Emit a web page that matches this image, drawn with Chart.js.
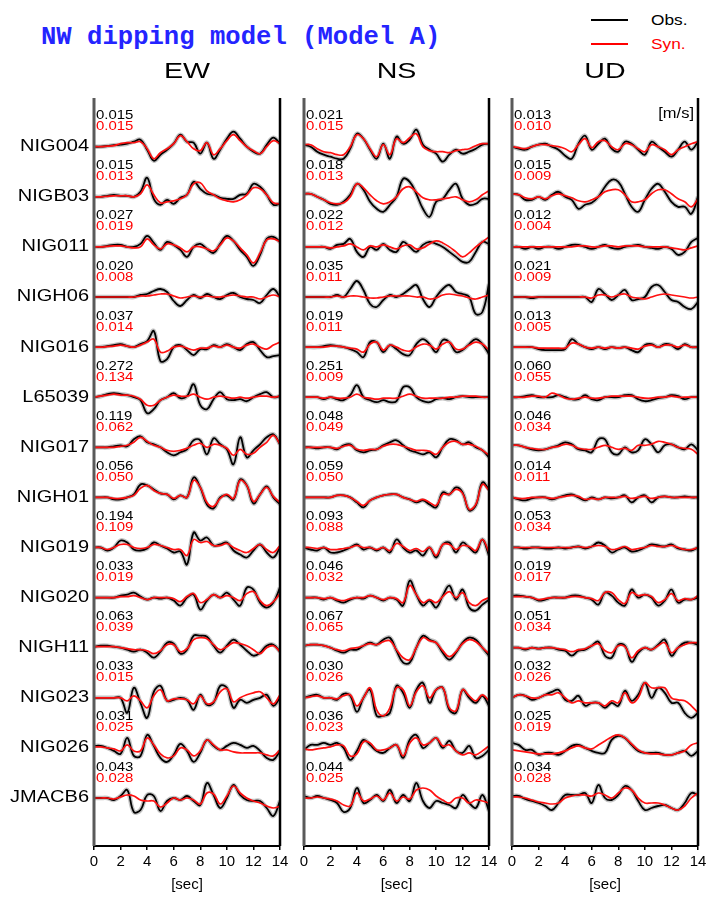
<!DOCTYPE html>
<html>
<head>
<meta charset="utf-8">
<script src="https://cdn.jsdelivr.net/npm/chart.js@4.4.1/dist/chart.umd.min.js"></script>
<style>
  body { margin: 0; background: #fff; width: 711px; height: 899px; position: relative; overflow: hidden; }
  canvas { position: absolute; top: 0; }
  #head { position: absolute; left: 41px; top: 22px; font: bold 25.6px "Liberation Mono", monospace; line-height: 32px; color: #2424ff; white-space: pre; }
  .legLine { position: absolute; left: 591px; width: 37px; height: 0; border-top: 2px solid #000; }
  .legText { position: absolute; left: 651px; font: 15px "Liberation Sans", Arial, sans-serif; line-height: 16px; transform: scaleX(1.15); transform-origin: left center; }
</style>
</head>
<body>
<div id="head">NW dipping model (Model A)</div>
<div class="legLine" style="top:19px"></div>
<div class="legText" style="top:12px;color:#000">Obs.</div>
<div class="legLine" style="top:43px;border-color:#ff0000"></div>
<div class="legText" style="top:36px;color:#ff0000">Syn.</div>

<canvas id="ew" width="300" height="899" style="left:0px"></canvas>
<canvas id="ns" width="214" height="899" style="left:290px"></canvas>
<canvas id="ud" width="213" height="899" style="left:498px"></canvas>

<script>
// time samples [sec]
const times = [0, 0.5, 1, 1.5, 2, 2.5, 3, 3.5, 4, 4.5, 5, 5.5, 6, 6.5, 7,
  7.5, 8, 8.5, 9, 9.5, 10, 10.5, 11, 11.5, 12, 12.5, 13, 13.5, 14];
const timeTicks = [0, 2, 4, 6, 8, 10, 12, 14];

const stations = ['NIG004', 'NIGB03', 'NIG011', 'NIGH06', 'NIG016', 'L65039', 'NIG017',
  'NIGH01', 'NIG019', 'NIG020', 'NIGH11', 'NIG023', 'NIG026', 'JMACB6'];

// peak amplitudes printed above each trace [m/s]
const ewObsMax = ['0.015', '0.015', '0.027', '0.020', '0.037', '0.272', '0.119', '0.056', '0.194', '0.033', '0.063', '0.033', '0.031', '0.043'];
const ewSynMax = ['0.015', '0.013', '0.019', '0.008', '0.014', '0.134', '0.062', '0.050', '0.109', '0.019', '0.039', '0.015', '0.025', '0.028'];
const nsObsMax = ['0.021', '0.018', '0.022', '0.035', '0.019', '0.251', '0.048', '0.059', '0.093', '0.046', '0.067', '0.030', '0.036', '0.044'];
const nsSynMax = ['0.015', '0.013', '0.012', '0.011', '0.011', '0.009', '0.049', '0.050', '0.088', '0.032', '0.065', '0.026', '0.023', '0.025'];
const udObsMax = ['0.013', '0.015', '0.012', '0.021', '0.013', '0.060', '0.046', '0.014', '0.053', '0.019', '0.051', '0.032', '0.025', '0.034'];
const udSynMax = ['0.010', '0.009', '0.004', '0.009', '0.005', '0.055', '0.034', '0.011', '0.034', '0.017', '0.034', '0.026', '0.019', '0.028'];

// normalised waveforms, one row per station
const ewObs = [
  [0,0,0.7,1.5,2,3,5,7,-3,-14,-8,-3,3,12,5,4,-7,4,-12,-3,8,15,8,0,-5,-7,2,9,3],
  [0,0,1,2,1,1,0,5,19,-2,-8,-3,-7,-1,2,15,8,3,2,-1,-2,-2,2,3,13,10,2,-8,-7],
  [0,0,1,2,2,0,0,3,11,4,-3,5,2,-3,-10,0,3,-2,-6,3,11,6,-3,-10,-19,-8,8,10,5],
  [0,0,0,0,0,0,0,2,3,6,8,5,-4,-9,-3,2,-1,3,0,-2,2,4,0,-2,-3,-6,2,8,0],
  [0,0,1,2,3,1,0,3,6,16,-14,-12,0,2,-3,-8,-2,-2,2,0,3,0,-3,3,5,-3,-10,-9,-8],
  [0,1,3,4,3,2,0,-3,-16,-12,-3,0,4,-1,1,13,-8,-12,-2,5,-2,-3,-2,-4,0,3,5,0,1],
  [0,0,0,1,2,1,8,11,5,3,0,-5,-8,-5,-2,7,7,-7,9,3,-2,-17,10,-10,-3,3,10,13,3],
  [0,0,0,-2,-2,0,3,13,12,8,4,3,-2,2,0,20,10,-7,-11,0,2,-2,18,12,-6,3,11,0,-7],
  [0,0,-3,0,7,5,-2,-3,-1,5,2,-1,-5,-4,-17,15,7,10,2,3,5,-3,-7,-10,-3,3,-5,-10,0],
  [0,0,0,0,2,3,5,1,-2,0,-1,0,-3,-8,0,3,-12,-3,3,0,5,-2,-8,10,8,-5,-10,-5,10],
  [1,2,2,1,0,-2,-4,-2,-5,-10,-4,5,4,-6,-2,12,12,11,2,-5,2,8,3,-3,-8,-5,2,3,-4],
  [0,0,0,0,0,-15,10,-5,-20,6,12,-3,-2,0,-2,-12,3,-7,-5,12,10,-10,-2,-5,-2,0,3,-8,0],
  [2,2,0,-3,-6,10,-8,-8,13,2,-10,-14,-7,4,-3,-14,-5,8,2,-2,2,5,3,0,2,-3,-10,-12,-3],
  [0,0,0,-2,2,8,-14,-12,3,2,-13,-3,0,-2,2,-3,-7,15,3,-10,0,13,3,-2,-3,-3,-10,-18,-3]
];
const ewSyn = [
  [0,0,0.5,1,3,4,4,5,-2,-12,-6,-2,3,11,5,-2,-4,4,-8,-2,6,12,6,0,-4,-7,0,6,3],
  [0,0,0.5,1,1,1,0,3,12,2,-6,-5,-4,-2,2,13,14,6,2,-2,-4,-5,-3,2,9,8,2,-6,-7],
  [0,0,0.5,1,1,0,-1,0,8,2,-2,3,2,-1,-5,0,0,-2,-4,2,9,6,-1,-8,-16,-6,7,8,5],
  [0,0,0,0,0,0,0,1,1,2,3,3,1,-1,0,1,0,1,0,0,1,2,1,0,0,-2,0,2,0],
  [0,0,0.5,1,2,1,0,2,5,8,-5,-4,0,1,-1,-3,-1,-1,1,0,2,0,-1,2,3,0,-2,2,5],
  [0,1,2,3,2,2,1,-2,-8,-8,-3,0,2,1,1,3,0,-2,0,1,0,-1,0,-1,0,1,1,0,1],
  [0,0,0,0,1,2,5,10,6,2,0,-3,-4,-3,-1,2,4,0,3,2,-1,-8,-2,-7,-6,0,5,12,3],
  [0,0,0,-1,-1,0,2,9,12,7,4,3,-1,2,0,17,10,-5,-9,-1,3,-1,17,12,-4,3,10,1,-5],
  [0,0,-2,0,3,3,0,-1,0,3,2,0,-2,-2,-8,8,5,6,2,2,4,0,-3,-5,-1,3,-2,-5,2],
  [0,0,0,0,1,1,2,0,-2,0,0,0,-1,-4,1,4,-5,-2,3,0,2,0,-3,4,6,-3,-8,-4,4],
  [1,1,1,1,0,-1,-2,-2,-3,-6,-3,3,3,-4,-1,8,10,9,3,-2,1,5,4,2,-2,-6,0,2,-4],
  [0,0,0,0,0,-3,2,-3,-10,2,8,-3,-1,-1,-2,-6,2,-6,-4,6,9,-4,0,3,5,6,0,-6,3],
  [1,1,0,-1,-3,3,-3,-3,10,3,-6,-10,-8,0,-2,-8,-3,8,3,-2,-2,-4,-5,-5,-5,-5,-7,-8,-2],
  [0,0,0,-1,1,3,2,-2,-3,-3,-9,-5,0,-2,0,-2,-6,5,4,-6,2,12,5,0,-3,-5,-8,-10,-8]
];
const nsObs = [
  [2,0,-5,-8,-10,-12,-12,-2,13,8,-3,-12,3,-12,10,3,7,17,2,-3,-7,-15,-8,-3,-7,-5,-2,2,3],
  [3,3,0,-3,-7,-8,-5,2,13,7,-5,-12,-15,-8,0,18,15,3,-12,-20,-5,-2,7,13,-2,-8,-7,-2,-2],
  [0,0,0,0,-2,2,3,8,-5,-10,0,-3,3,-3,-5,5,0,-5,2,5,3,0,-5,-10,-15,-15,-5,5,3],
  [0,0,0,0,0,2,0,8,16,7,-7,-10,-3,2,0,3,8,12,-2,-10,0,8,12,5,3,0,-17,-15,13],
  [0,0,0,1,2,1,0,-2,-5,-10,5,5,-5,2,-2,-7,-8,3,8,3,-5,7,5,-5,-3,3,8,3,-7],
  [0,0,0,-2,0,-2,-3,2,12,0,-3,-5,-3,-5,-4,10,10,0,-4,-5,-2,-1,-2,0,1,0,0,0,0],
  [0,0,-1,0,0,-2,2,3,-3,-5,-3,-2,2,5,7,2,-3,-5,-7,-5,-10,0,8,7,3,5,0,-3,-10],
  [0,0,0,0,0,2,2,0,-5,-10,-3,0,2,3,3,0,-2,-5,-3,-7,-10,5,3,10,5,-13,-8,15,8],
  [0,-2,-3,0,-5,-5,-3,0,3,-2,0,-3,0,-5,8,0,-5,-3,-8,0,-10,3,5,-5,5,0,-5,8,-8],
  [0,0,0,-2,0,-3,-5,-2,0,-1,2,0,-3,0,-2,-8,17,3,-8,-3,-10,2,12,-2,8,-10,-13,-7,-2],
  [2,3,3,2,0,-3,-5,-2,-2,2,5,3,8,10,-3,-15,-15,0,12,8,5,-5,-12,-5,5,10,8,0,-8],
  [0,2,3,0,0,-2,4,2,-14,0,8,-18,-18,-15,12,5,-10,8,15,-5,8,10,-12,-15,8,0,-5,2,-8],
  [-2,3,3,5,3,5,0,-12,-3,8,3,-3,-5,0,3,-10,8,13,0,5,10,0,7,-3,-5,2,-10,-8,-2],
  [2,0,2,0,-2,-5,-14,-10,10,-5,-2,3,-3,8,-5,3,-3,15,-3,-10,-3,-5,-7,-10,3,-5,-10,3,-13]
];
const nsSyn = [
  [2,2,-2,-5,-6,-8,-8,0,12,8,-2,-10,2,-8,8,4,9,13,0,-4,-5,-5,-6,-4,-3,-2,1,3,3],
  [3,3,0,-3,-6,-7,-6,0,13,9,2,-4,-7,-5,0,8,10,5,-1,-3,-3,-2,-1,0,-3,-5,-3,2,6],
  [0,0,0,0,-1,0,1,3,0,-3,1,0,2,0,-2,1,2,-2,-1,3,6,4,0,-5,-10,-6,0,5,10],
  [0,0,0,0,0,1,0,1,1,0,-1,-1,0,1,1,1,1,0,0,-2,-1,2,3,2,1,-1,-2,0,2],
  [0,0,0,0,1,1,0,-1,-2,-5,3,5,-3,2,0,-3,-4,0,3,2,-2,3,5,-2,-2,2,5,3,-3],
  [0,0,0,-1,0,-1,-1,0,3,0,-1,-2,-1,-1,-1,1,3,1,-1,-1,-1,-1,0,0,1,1,1,0,0],
  [0,0,0,0,0,-1,1,2,-2,-3,-2,-2,1,3,3,1,-1,-3,-3,-4,-7,0,5,6,3,3,1,-3,-8],
  [0,0,0,0,0,2,2,0,-4,-8,-3,0,2,3,3,0,-2,-4,-2,-5,-8,3,3,8,4,-12,-7,13,7],
  [0,0,-1,0,-2,-2,-1,0,2,0,0,-2,0,-3,4,1,-3,-1,-4,0,-8,3,3,-2,2,1,-3,8,-5],
  [0,0,0,-1,0,-2,-3,-1,0,0,2,0,-2,0,-1,-5,12,3,-5,-2,-5,1,6,0,5,-5,-8,-3,0],
  [2,3,3,2,0,-2,-3,-1,0,2,4,3,6,7,-2,-10,-12,0,10,7,5,-3,-9,-4,4,8,6,0,-6],
  [0,1,2,0,0,-1,2,3,-8,0,10,-12,-18,-10,10,8,-8,6,12,0,8,10,-10,-13,8,2,-3,3,-3],
  [-1,-2,-1,0,1,3,2,-8,-6,6,5,-2,-2,0,3,-8,5,10,3,5,10,2,3,-3,-7,-5,-7,-3,2],
  [0,0,1,0,-1,-3,-7,-8,5,-3,-1,2,-2,5,-3,1,-1,8,10,8,2,-2,-5,0,0,-5,-2,-3,-5]
];
const udObs = [
  [0,-2,-3,0,2,3,0,-3,-9,-12,3,11,-3,3,8,-2,-5,5,3,-3,-8,5,0,-5,-10,-3,5,-3,5],
  [3,2,-3,-3,0,-3,2,5,0,-3,-12,-8,-6,0,10,17,15,3,-10,-15,-3,8,13,5,-5,-10,-10,-17,0],
  [0,0,-2,0,-2,0,0,-2,0,2,2,0,-2,0,2,-1,-2,0,1,2,0,-1,-2,0,-2,-8,-5,5,9],
  [0,0,0,-1,0,0,0,0,0,0,0,0,-5,8,3,-3,2,7,-3,-2,0,10,12,5,-3,-5,-10,-12,-5],
  [0,0,0,0,-2,-3,-3,-3,-2,8,3,0,-2,0,-2,0,-1,0,-3,-5,2,3,0,3,2,-2,3,0,0],
  [0,0,1,2,0,0,0,2,0,-2,-2,2,-2,-3,0,0,0,2,2,-2,-4,-3,-1,0,2,1,-2,0,0],
  [2,2,0,-2,-3,-2,0,2,5,3,-2,-3,-5,8,8,-5,-7,0,-5,-3,8,3,-5,2,3,0,-2,3,-3],
  [0,-2,-3,-1,0,0,-2,0,2,3,0,-3,0,-2,0,-1,0,2,-5,0,2,-5,0,1,0,0,1,0,0],
  [0,0,-1,0,0,-1,-1,0,-1,0,1,-1,1,5,2,-5,-2,0,-4,-3,0,3,2,1,3,-1,-2,-3,0],
  [2,2,1,0,-3,-2,0,0,0,2,2,0,-2,-7,5,2,-5,-8,8,0,3,0,-8,-3,8,-5,-2,-2,0],
  [0,0,-2,0,-1,0,0,-2,-3,-8,-3,-2,2,6,-8,-10,3,2,-14,-5,0,-2,3,8,-8,0,5,5,3],
  [0,3,2,-2,0,3,6,8,-2,-3,2,-8,-5,-5,-10,-5,-8,7,-3,3,15,0,10,5,-5,-5,-15,-20,-15],
  [5,3,-2,-2,-7,-5,-5,-7,-3,2,3,0,-3,-5,-5,8,12,10,3,-3,-5,-5,-5,-7,-7,-5,-3,-8,-3],
  [2,2,-1,-3,-5,-8,-12,-5,3,3,3,5,-5,13,0,-2,3,12,8,-3,-12,-10,-8,-7,-10,-12,-5,5,3]
];
const udSyn = [
  [0,-1,-2,0,2,2,1,0,-2,-5,2,8,-1,5,6,0,-3,3,2,-2,-5,2,0,-3,-8,-3,0,3,5],
  [3,2,-1,-2,0,-2,1,3,1,-1,-4,-5,-3,0,5,7,7,2,-5,-5,-3,3,7,7,3,-2,-5,-10,-2],
  [0,0,0,0,0,0,0,0,0,0,1,1,0,0,1,1,0,1,1,1,0,0,0,0,-1,-2,-3,-1,1],
  [0,0,0,0,0,0,0,0,0,0,0,0,-1,2,2,0,2,3,0,-1,-2,0,2,3,2,1,0,-1,0],
  [0,0,0,0,-1,-1,-1,-1,-1,4,3,0,-1,0,-1,0,-1,0,-1,-2,1,2,0,2,2,0,2,0,0],
  [0,0,0,1,1,0,4,2,-1,-2,-1,0,-1,-1,0,1,1,1,1,0,-1,-1,0,0,1,0,0,0,0],
  [2,2,0,-1,-2,-2,0,1,3,2,-1,-2,-2,0,2,0,-2,-1,-3,2,2,3,6,5,3,0,-1,-2,-7],
  [0,-1,-1,0,0,0,-1,0,1,2,1,-2,-1,-2,0,0,0,1,-1,0,1,-1,0,1,0,0,0,0,0],
  [0,0,0,0,0,0,0,0,0,0,1,0,1,2,1,-2,-1,1,-2,-1,0,2,1,1,2,0,-2,-2,0],
  [1,1,1,0,-2,-1,0,0,0,1,1,0,-1,-3,5,5,-2,-6,5,2,3,1,-5,-2,4,-3,-1,-2,2],
  [0,0,-1,0,-1,0,0,-1,-2,-4,-2,-1,2,4,-3,-5,2,1,-10,-3,0,-2,2,5,-5,0,3,5,5],
  [0,3,2,0,0,3,3,5,0,-5,-3,-5,-5,-5,-8,-3,-5,5,-5,0,15,10,10,10,0,-2,-3,-8,-15],
  [-2,-3,-4,-5,-6,-6,-6,-5,-3,0,2,0,-1,3,7,11,13,10,4,-2,-5,-6,-6,-7,-7,-5,-3,3,5],
  [1,1,0,-2,-4,-5,-6,-5,0,2,3,3,2,5,3,0,5,10,8,0,-5,-5,-5,-7,-10,-12,-8,0,5]
];

// vertical layout of the record section (pixels inside the plot area)
const PLOT_H = 748;
const ROW0 = 48.7;
const ROW_GAP = 50.1;
const rowBase = k => -(ROW0 + ROW_GAP * k);

const FONT = '"Liberation Sans", Arial, sans-serif';

function stretchText(ctx, str, x, y, size, sx, align, color) {
  ctx.save();
  ctx.translate(x, y);
  ctx.scale(sx, 1);
  ctx.font = size + 'px ' + FONT;
  ctx.textAlign = align;
  ctx.textBaseline = 'middle';
  ctx.fillStyle = color;
  ctx.fillText(str, 0, 0);
  ctx.restore();
}

const panelDeco = {
  id: 'panelDeco',
  afterDraw(chart, args, opts) {
    const { ctx, chartArea: a, scales: { y } } = chart;
    ctx.save();
    ctx.lineCap = 'butt';
    ctx.strokeStyle = '#5a5a5a';
    ctx.lineWidth = 3;
    ctx.beginPath(); ctx.moveTo(a.left, a.top); ctx.lineTo(a.left, a.bottom); ctx.stroke();
    ctx.strokeStyle = '#000';
    ctx.lineWidth = 2.5;
    ctx.beginPath(); ctx.moveTo(a.right, a.top); ctx.lineTo(a.right, a.bottom); ctx.stroke();
    ctx.restore();

    stretchText(ctx, opts.title, (a.left + a.right) / 2, 72, 22, 1.3, 'center', '#000');
    stations.forEach((name, k) => {
      const py = y.getPixelForValue(rowBase(k));
      stretchText(ctx, opts.obsMax[k], a.left + 2, py - 31, 13, 1.15, 'left', '#000');
      stretchText(ctx, opts.synMax[k], a.left + 2, py - 20, 13, 1.15, 'left', '#ff0000');
      if (opts.names) stretchText(ctx, name, a.left - 5, py, 16, 1.25, 'right', '#000');
    });
    if (opts.unit) stretchText(ctx, opts.unit, a.right - 4, 114, 15, 1.1, 'right', '#000');
  }
};

function traces(rows, k) {
  return times.map((t, i) => ({ x: t, y: rowBase(k) + rows[k][i] }));
}

function makePanel(id, title, obs, syn, obsMax, synMax, padL, padR, names, unit) {
  const datasets = [];
  stations.forEach((s, k) => {
    datasets.push({ data: traces(syn, k), borderColor: '#ff1010', borderWidth: 1.7, order: 0 });
    datasets.push({ data: traces(obs, k), borderColor: '#000000', borderWidth: 1.8, order: 1 });
    datasets.push({ data: traces(obs, k), borderColor: '#c4c4c4', borderWidth: 4.5, order: 2 });
  });
  return new Chart(document.getElementById(id), {
    type: 'line',
    data: { datasets },
    options: {
      responsive: false,
      animation: false,
      devicePixelRatio: 1,
      layout: { padding: { top: 98, left: padL, right: padR, bottom: 0 } },
      elements: {
        point: { radius: 0 },
        line: { tension: 0.4, fill: false }
      },
      plugins: {
        legend: { display: false },
        tooltip: { enabled: false },
        panelDeco: { title, obsMax, synMax, names, unit }
      },
      scales: {
        x: {
          type: 'linear',
          min: 0,
          max: 14,
          afterBuildTicks: s => { s.ticks = timeTicks.map(v => ({ value: v })); },
          afterFit: s => { s.height = 53; },
          ticks: { color: '#000', font: { size: 15, family: FONT }, padding: 3, maxRotation: 0, autoSkip: false },
          grid: { drawOnChartArea: false, drawTicks: true, tickLength: 4, color: '#000', lineWidth: 1.5 },
          border: { display: true, color: '#000', width: 2 },
          title: { display: true, text: '[sec]', color: '#000', font: { size: 15, family: FONT }, padding: { top: 0, bottom: 5 } }
        },
        y: { type: 'linear', min: -PLOT_H, max: 0, display: false }
      }
    },
    plugins: [panelDeco]
  });
}

makePanel('ew', 'EW', ewObs, ewSyn, ewObsMax, ewSynMax, 94, 20, true, null);
makePanel('ns', 'NS', nsObs, nsSyn, nsObsMax, nsSynMax, 14, 15, false, null);
makePanel('ud', 'UD', udObs, udSyn, udObsMax, udSynMax, 14, 13, false, '[m/s]');
</script>
</body>
</html>
